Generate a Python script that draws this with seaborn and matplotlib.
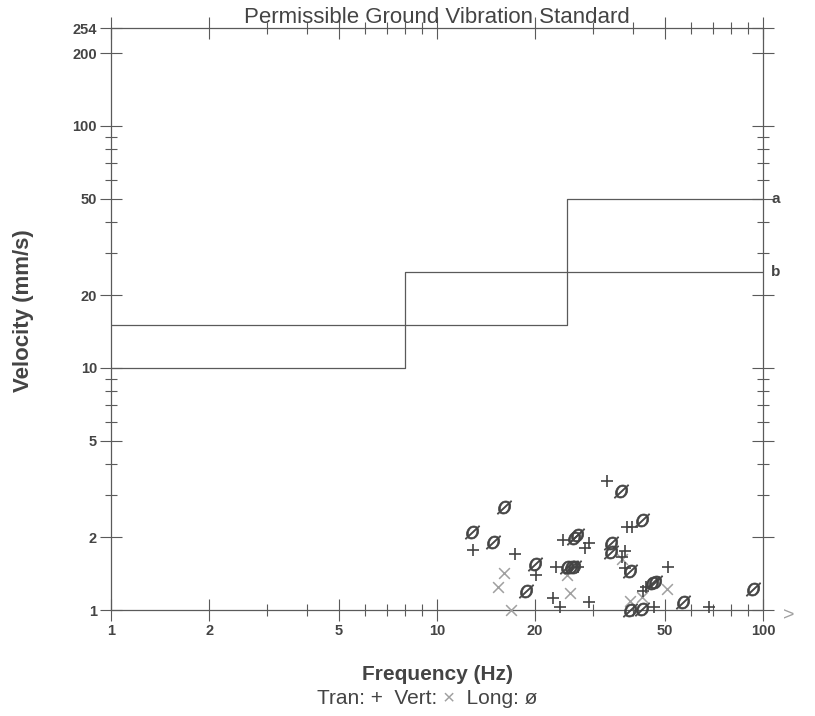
import matplotlib
matplotlib.use("Agg")
from matplotlib import pyplot as plt
from matplotlib.ticker import NullFormatter, FixedFormatter
import pandas as pd
import seaborn as sns

# standard curves (frequency Hz, velocity mm/s), drawn as steps
std_a_freq = [1, 25, 100]
std_a_vel = [15, 50, 50]
std_b_freq = [1, 8, 100]
std_b_vel = [10, 25, 25]

# Tran (+)
tran_freq = [12.9, 17.4, 33.2, 38.2, 39.6, 24.4, 29.3, 28.4, 37.7, 36.9, 20.1,
             23.2, 27.1, 37.7, 51.2, 42.8, 43.7, 22.7, 23.8, 29.3, 46.3, 68.4]
tran_vel = [1.77, 1.70, 3.42, 2.20, 2.21, 1.95, 1.90, 1.80, 1.75, 1.65, 1.40,
            1.51, 1.51, 1.49, 1.51, 1.20, 1.25, 1.12, 1.03, 1.08, 1.03, 1.03]
# Vert (x)
vert_freq = [16.0, 15.4, 16.9, 25.0, 25.6, 36.9, 39.1, 42.5, 50.9]
vert_vel = [1.42, 1.25, 1.0, 1.40, 1.18, 1.63, 1.09, 1.13, 1.22]
# Long (ø)
long_freq = [16.0, 12.8, 14.8, 36.6, 42.5, 26.8, 26.3, 34.1, 34.1, 20.0, 25.0,
             25.7, 26.3, 39.1, 45.5, 46.5, 18.8, 56.7, 93.0, 39.1, 42.5]
long_vel = [2.67, 2.11, 1.91, 3.11, 2.35, 2.05, 1.98, 1.89, 1.74, 1.55, 1.50,
            1.51, 1.51, 1.45, 1.29, 1.30, 1.20, 1.08, 1.22, 1.0, 1.01]

y_major = [1, 2, 5, 10, 20, 50, 100, 200, 254]
y_minor = [3, 4, 6, 7, 8, 9, 30, 40, 60, 70, 80, 90]
x_major = [1, 2, 5, 10, 20, 50, 100]
x_minor = [3, 4, 6, 7, 8, 9, 30, 40, 60, 70, 80, 90]

sns.set_style("white")
plt.rcParams["font.family"] = ["Liberation Sans", "DejaVu Sans"]

dark = "#444444"
line_c = "#5a5a5a"
light = "#a0a0a0"

fig = plt.figure(figsize=(8.15, 7.16), dpi=100)
ax = fig.add_axes([111 / 815, 1 - 610 / 716, (763 - 111) / 815, (610 - 28) / 716])

a = pd.DataFrame({"freq": std_a_freq, "vel": std_a_vel})
b = pd.DataFrame({"freq": std_b_freq, "vel": std_b_vel})
sns.lineplot(data=a, x="freq", y="vel", ax=ax, color=line_c, lw=0.9,
             drawstyle="steps-post", estimator=None, sort=False)
sns.lineplot(data=b, x="freq", y="vel", ax=ax, color=line_c, lw=0.9,
             drawstyle="steps-post", estimator=None, sort=False)

sns.scatterplot(x=vert_freq, y=vert_vel, ax=ax, marker="x", s=60, color=light,
                linewidth=1.1, clip_on=False, zorder=3)
sns.scatterplot(x=tran_freq, y=tran_vel, ax=ax, marker="+", s=75, color=dark,
                linewidth=1.2, clip_on=False, zorder=4)
sns.scatterplot(x=long_freq, y=long_vel, ax=ax, marker="$Ø$", s=110, color=dark,
                edgecolor=dark, linewidth=0.5, clip_on=False, zorder=5)

ax.set_xscale("log")
ax.set_yscale("log")
ax.set_xlim(1, 100)
ax.set_ylim(1, 254)
ax.set_xticks(x_major)
ax.set_xticks(x_minor, minor=True)
ax.xaxis.set_major_formatter(FixedFormatter([str(v) for v in x_major]))
ax.xaxis.set_minor_formatter(NullFormatter())
ax.set_yticks(y_major)
ax.set_yticks(y_minor, minor=True)
ax.yaxis.set_major_formatter(FixedFormatter([str(v) for v in y_major]))
ax.yaxis.set_minor_formatter(NullFormatter())

for s in ax.spines.values():
    s.set_color(line_c)
    s.set_linewidth(0.9)
ax.tick_params(which="both", direction="inout", top=True, right=True,
               bottom=True, left=True, color=line_c, width=0.8, labelcolor=dark)
ax.tick_params(which="major", length=16, labelsize=10.5, pad=2)
ax.tick_params(which="minor", length=9)
for lab in ax.get_xticklabels() + ax.get_yticklabels():
    lab.set_fontweight("bold")
ax.set_xlabel("")
ax.set_ylabel("")

ax.set_title("Permissible Ground Vibration Standard", fontsize=16, color=dark, pad=3)
ax.text(1.02, 50, "a", transform=ax.get_yaxis_transform(), fontsize=11,
        fontweight="bold", color=dark, va="center", ha="center")
ax.text(1.02, 25, "b", transform=ax.get_yaxis_transform(), fontsize=11,
        fontweight="bold", color=dark, va="center", ha="center")

fig.text(789 / 815, 1 - 616 / 716, ">", fontsize=14, color=light, ha="center", va="center")
fig.text(24 / 815, 1 - 311 / 716, "Velocity (mm/s)", rotation=90, fontsize=16,
         fontweight="bold", color=dark, ha="center", va="center")
fig.text(437 / 815, 1 - 674 / 716, "Frequency (Hz)", fontsize=15,
         fontweight="bold", color=dark, ha="center", va="center")

t1 = fig.text(317 / 815, 1 - 708 / 716, "Tran: +  Vert: ", fontsize=15,
              color=dark, ha="left", va="bottom")
t2 = ax.annotate("\u00d7", xy=(1, 0), xycoords=t1, fontsize=15, color=light,
                 ha="left", va="bottom", annotation_clip=False)
t3 = ax.annotate("  Long: \u00f8", xy=(1, 0), xycoords=t2, fontsize=15, color=dark,
                 ha="left", va="bottom", annotation_clip=False)

fig.savefig("out.png", dpi=100)
